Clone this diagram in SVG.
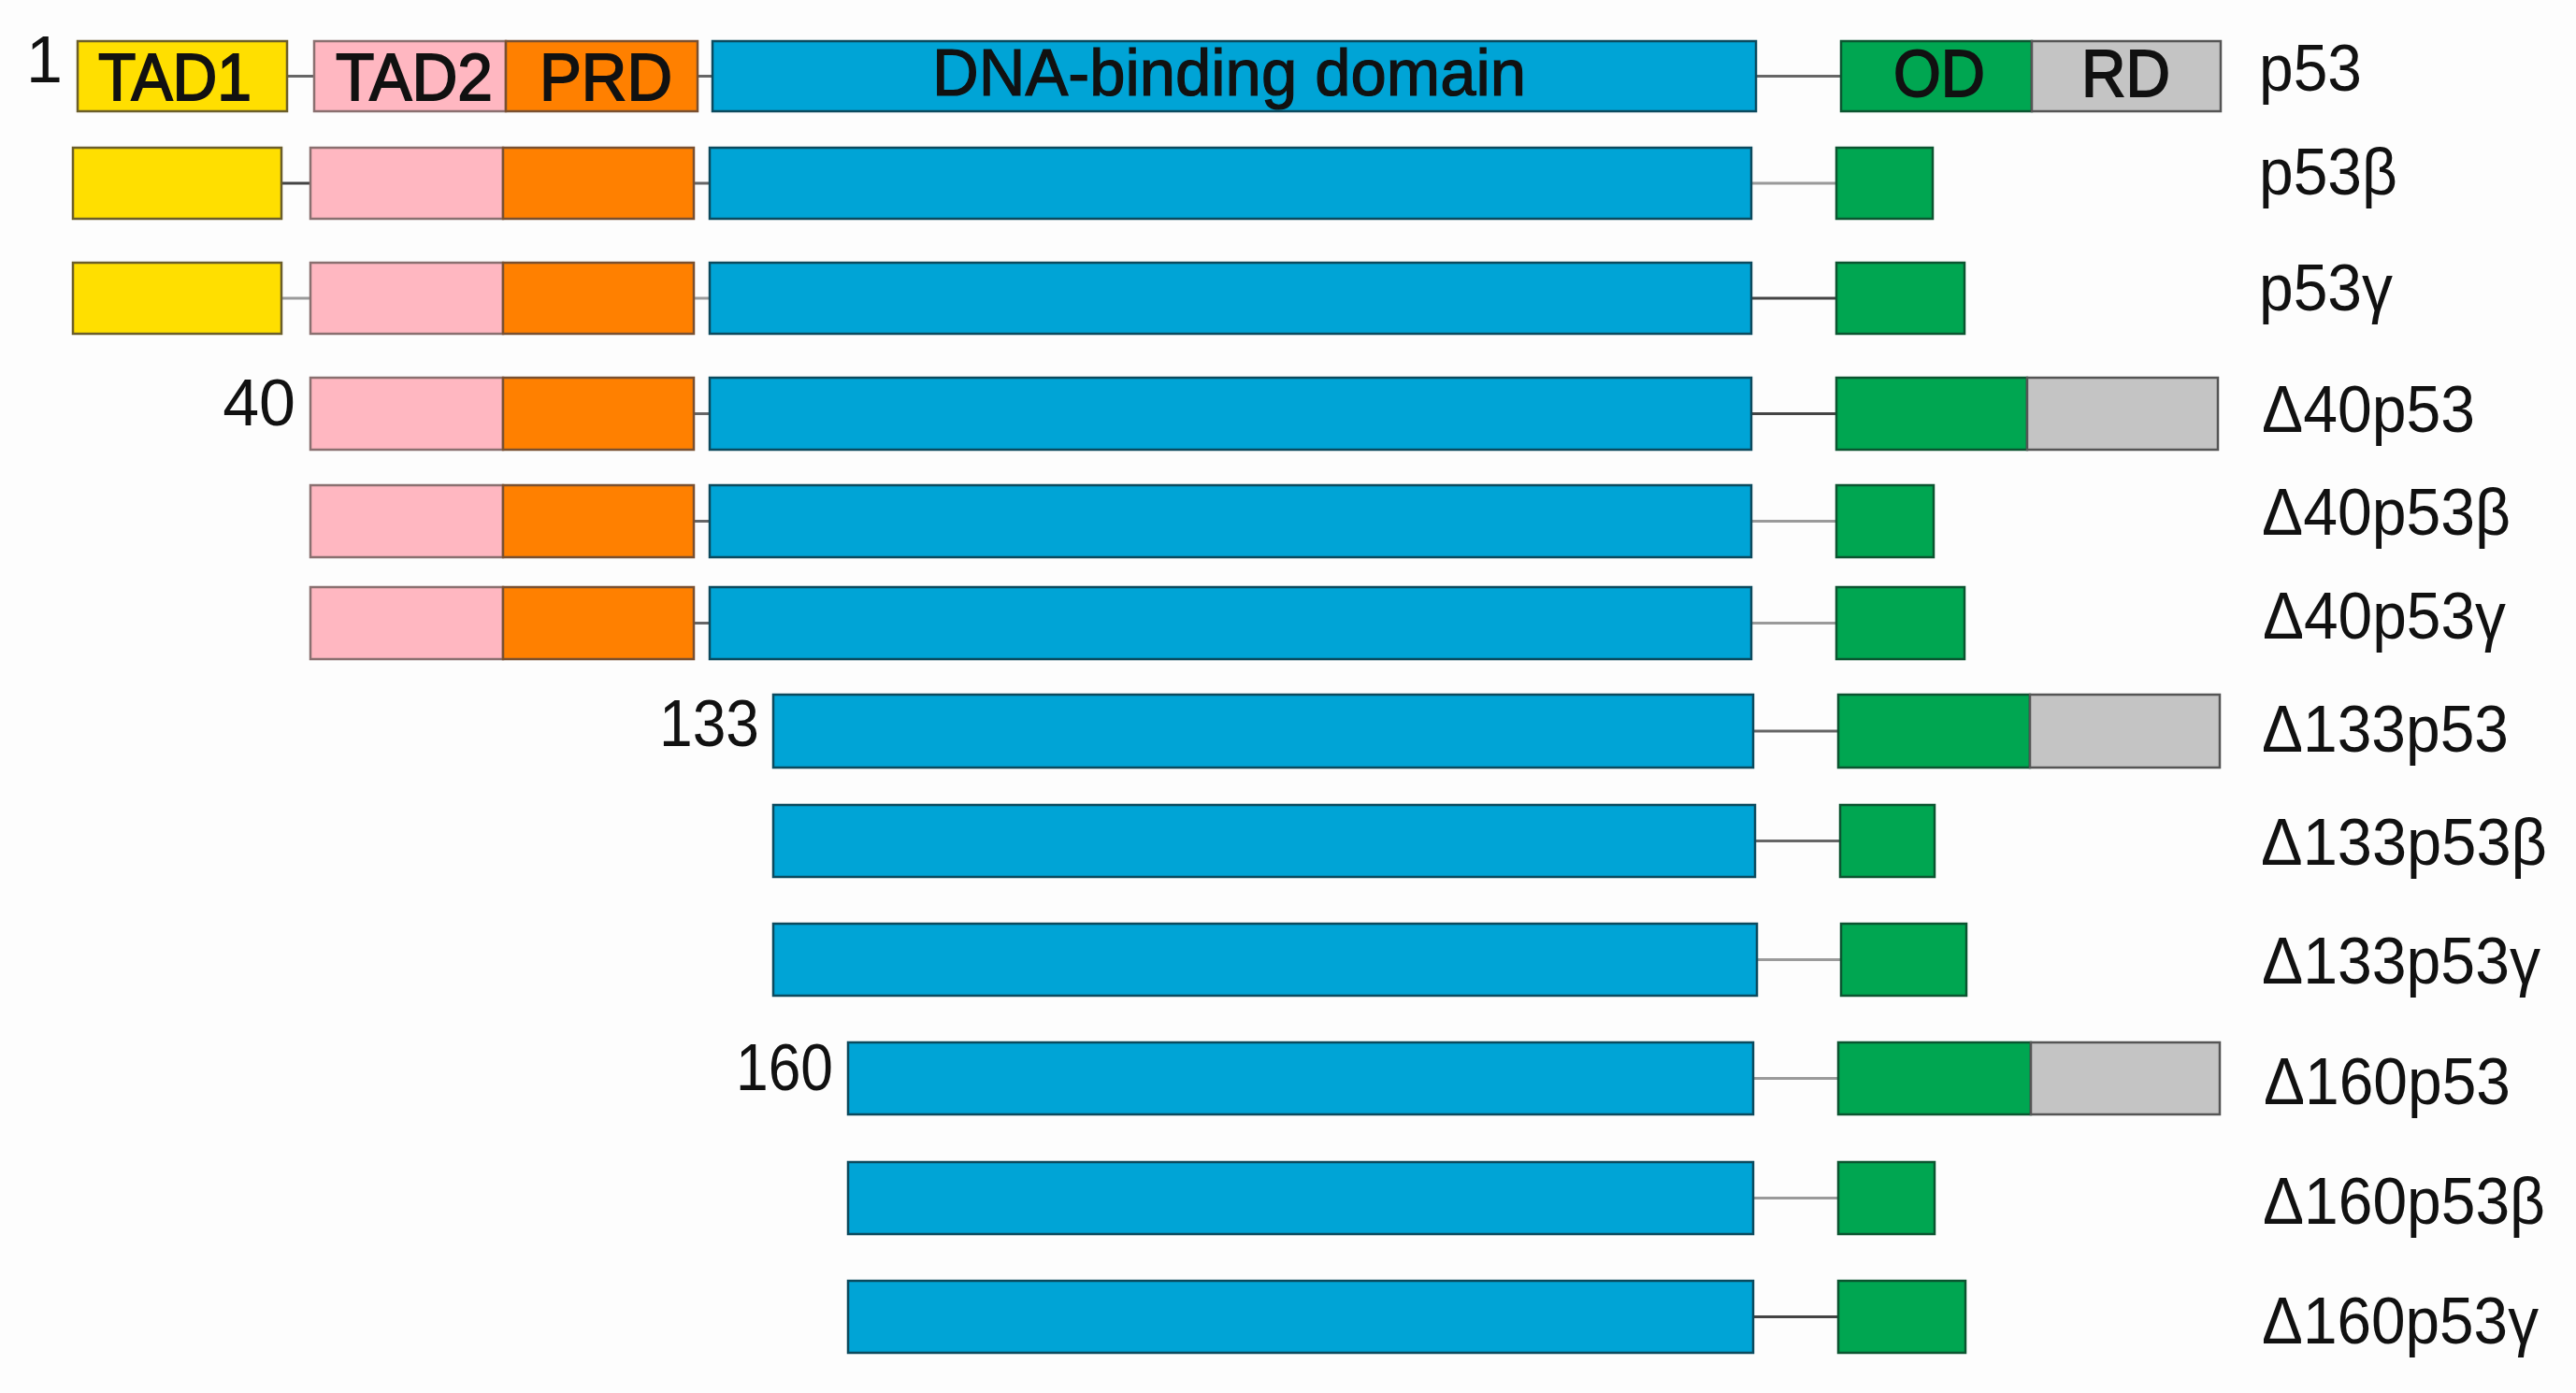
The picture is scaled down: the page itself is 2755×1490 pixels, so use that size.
<svg xmlns="http://www.w3.org/2000/svg" width="2755" height="1490" viewBox="0 0 2755 1490">
<defs>
<style>
.bg{fill:#fdfdfd}
rect.tad1{fill:#FFDF00;stroke:#6b5e2a;stroke-width:2.5}
rect.tad2{fill:#FFB7C1;stroke:#8a7070;stroke-width:2.5}
rect.prd{fill:#FF8000;stroke:#7a5030;stroke-width:2.5}
rect.dbd{fill:#00A4D6;stroke:#0b4a5e;stroke-width:2.5}
rect.od{fill:#00A651;stroke:#0b5530;stroke-width:2.5}
rect.rd{fill:#C4C4C4;stroke:#555555;stroke-width:2.5}
.lk{stroke:#666666;stroke-width:3;fill:none}
.lk.lt{stroke:#9a9a9a}
.lk.dk{stroke:#444444}
text{font-family:"Liberation Sans",Arial,Helvetica,sans-serif;fill:#111111}
.dom{font-size:70px;text-anchor:start;stroke:#111111;stroke-width:1.8}
.dna{font-size:70px;text-anchor:start;stroke:#111111;stroke-width:1.2}
.num{font-size:70px;text-anchor:end}
.lab{font-size:70px;text-anchor:start}
</style>
</defs>
<rect class="bg" x="0" y="0" width="2755" height="1490"/>

<g id="connectors">
<line class="lk" x1="307" y1="81.5" x2="336" y2="81.5"/>
<line class="lk" x1="746" y1="81.5" x2="762" y2="81.5"/>
<line class="lk" x1="1878" y1="81.5" x2="1969" y2="81.5"/>
<line class="lk dk" x1="301" y1="196" x2="332" y2="196"/>
<line class="lk" x1="742" y1="196" x2="759" y2="196"/>
<line class="lk lt" x1="1873" y1="196" x2="1964" y2="196"/>
<line class="lk lt" x1="301" y1="319" x2="332" y2="319"/>
<line class="lk lt" x1="742" y1="319" x2="759" y2="319"/>
<line class="lk dk" x1="1873" y1="319" x2="1964" y2="319"/>
<line class="lk" x1="742" y1="442.5" x2="759" y2="442.5"/>
<line class="lk dk" x1="1873" y1="442.5" x2="1964" y2="442.5"/>
<line class="lk" x1="742" y1="557.5" x2="759" y2="557.5"/>
<line class="lk lt" x1="1873" y1="557.5" x2="1964" y2="557.5"/>
<line class="lk" x1="742" y1="666.5" x2="759" y2="666.5"/>
<line class="lk lt" x1="1873" y1="666.5" x2="1964" y2="666.5"/>
<line class="lk" x1="1875" y1="782" x2="1966" y2="782"/>
<line class="lk" x1="1877" y1="899.5" x2="1968" y2="899.5"/>
<line class="lk lt" x1="1879" y1="1026.5" x2="1969" y2="1026.5"/>
<line class="lk lt" x1="1875" y1="1153.5" x2="1966" y2="1153.5"/>
<line class="lk lt" x1="1875" y1="1281.5" x2="1966" y2="1281.5"/>
<line class="lk dk" x1="1875" y1="1408.5" x2="1966" y2="1408.5"/>
</g>

<g id="p53">
<rect class="tad1" x="83" y="44" width="224" height="75"/>
<rect class="tad2" x="336" y="44" width="205" height="75"/>
<rect class="prd" x="541" y="44" width="205" height="75"/>
<rect class="dbd" x="762" y="44" width="1116" height="75"/>
<rect class="od" x="1969" y="44" width="204" height="75"/>
<rect class="rd" x="2173" y="44" width="202" height="75"/>
<text class="num" x="67" y="88">1</text>
<text class="dom" x="105" y="107" textLength="164" lengthAdjust="spacingAndGlyphs">TAD1</text>
<text class="dom" x="359" y="107" textLength="168" lengthAdjust="spacingAndGlyphs">TAD2</text>
<text class="dom" x="577" y="107" textLength="142" lengthAdjust="spacingAndGlyphs">PRD</text>
<text class="dna" x="997" y="102" textLength="635" lengthAdjust="spacingAndGlyphs">DNA-binding domain</text>
<text class="dom" x="2025" y="103" textLength="98" lengthAdjust="spacingAndGlyphs">OD</text>
<text class="dom" x="2226" y="103" textLength="95" lengthAdjust="spacingAndGlyphs">RD</text>
<text class="lab" x="2416" y="97" textLength="110" lengthAdjust="spacingAndGlyphs">p53</text>
</g>

<g id="p53beta">
<rect class="tad1" x="78" y="158" width="223" height="76"/>
<rect class="tad2" x="332" y="158" width="206" height="76"/>
<rect class="prd" x="538" y="158" width="204" height="76"/>
<rect class="dbd" x="759" y="158" width="1114" height="76"/>
<rect class="od" x="1964" y="158" width="103" height="76"/>
<text class="lab" x="2416" y="208" textLength="148" lengthAdjust="spacingAndGlyphs">p53β</text>
</g>

<g id="p53gamma">
<rect class="tad1" x="78" y="281" width="223" height="76"/>
<rect class="tad2" x="332" y="281" width="206" height="76"/>
<rect class="prd" x="538" y="281" width="204" height="76"/>
<rect class="dbd" x="759" y="281" width="1114" height="76"/>
<rect class="od" x="1964" y="281" width="137" height="76"/>
<text class="lab" x="2416" y="332" textLength="143" lengthAdjust="spacingAndGlyphs">p53γ</text>
</g>

<g id="d40p53">
<rect class="tad2" x="332" y="404" width="206" height="77"/>
<rect class="prd" x="538" y="404" width="204" height="77"/>
<rect class="dbd" x="759" y="404" width="1114" height="77"/>
<rect class="od" x="1964" y="404" width="204" height="77"/>
<rect class="rd" x="2168" y="404" width="204" height="77"/>
<text class="num" x="316" y="455">40</text>
<text class="lab" x="2419" y="462" textLength="228" lengthAdjust="spacingAndGlyphs">Δ40p53</text>
</g>

<g id="d40p53beta">
<rect class="tad2" x="332" y="519" width="206" height="77"/>
<rect class="prd" x="538" y="519" width="204" height="77"/>
<rect class="dbd" x="759" y="519" width="1114" height="77"/>
<rect class="od" x="1964" y="519" width="104" height="77"/>
<text class="lab" x="2419" y="572" textLength="266" lengthAdjust="spacingAndGlyphs">Δ40p53β</text>
</g>

<g id="d40p53gamma">
<rect class="tad2" x="332" y="628" width="206" height="77"/>
<rect class="prd" x="538" y="628" width="204" height="77"/>
<rect class="dbd" x="759" y="628" width="1114" height="77"/>
<rect class="od" x="1964" y="628" width="137" height="77"/>
<text class="lab" x="2420" y="683" textLength="260" lengthAdjust="spacingAndGlyphs">Δ40p53γ</text>
</g>

<g id="d133p53">
<rect class="dbd" x="827" y="743" width="1048" height="78"/>
<rect class="od" x="1966" y="743" width="205" height="78"/>
<rect class="rd" x="2171" y="743" width="203" height="78"/>
<text class="num" x="812" y="798" textLength="107" lengthAdjust="spacingAndGlyphs">133</text>
<text class="lab" x="2419" y="804" textLength="264" lengthAdjust="spacingAndGlyphs">Δ133p53</text>
</g>

<g id="d133p53beta">
<rect class="dbd" x="827" y="861" width="1050" height="77"/>
<rect class="od" x="1968" y="861" width="101" height="77"/>
<text class="lab" x="2418" y="925" textLength="306" lengthAdjust="spacingAndGlyphs">Δ133p53β</text>
</g>

<g id="d133p53gamma">
<rect class="dbd" x="827" y="988" width="1052" height="77"/>
<rect class="od" x="1969" y="988" width="134" height="77"/>
<text class="lab" x="2419" y="1052" textLength="298" lengthAdjust="spacingAndGlyphs">Δ133p53γ</text>
</g>

<g id="d160p53">
<rect class="dbd" x="907" y="1115" width="968" height="77"/>
<rect class="od" x="1966" y="1115" width="206" height="77"/>
<rect class="rd" x="2172" y="1115" width="202" height="77"/>
<text class="num" x="891" y="1166" textLength="104" lengthAdjust="spacingAndGlyphs">160</text>
<text class="lab" x="2421" y="1181" textLength="264" lengthAdjust="spacingAndGlyphs">Δ160p53</text>
</g>

<g id="d160p53beta">
<rect class="dbd" x="907" y="1243" width="968" height="77"/>
<rect class="od" x="1966" y="1243" width="103" height="77"/>
<text class="lab" x="2420" y="1309" textLength="302" lengthAdjust="spacingAndGlyphs">Δ160p53β</text>
</g>

<g id="d160p53gamma">
<rect class="dbd" x="907" y="1370" width="968" height="77"/>
<rect class="od" x="1966" y="1370" width="136" height="77"/>
<text class="lab" x="2419" y="1437" textLength="296" lengthAdjust="spacingAndGlyphs">Δ160p53γ</text>
</g>
</svg>
